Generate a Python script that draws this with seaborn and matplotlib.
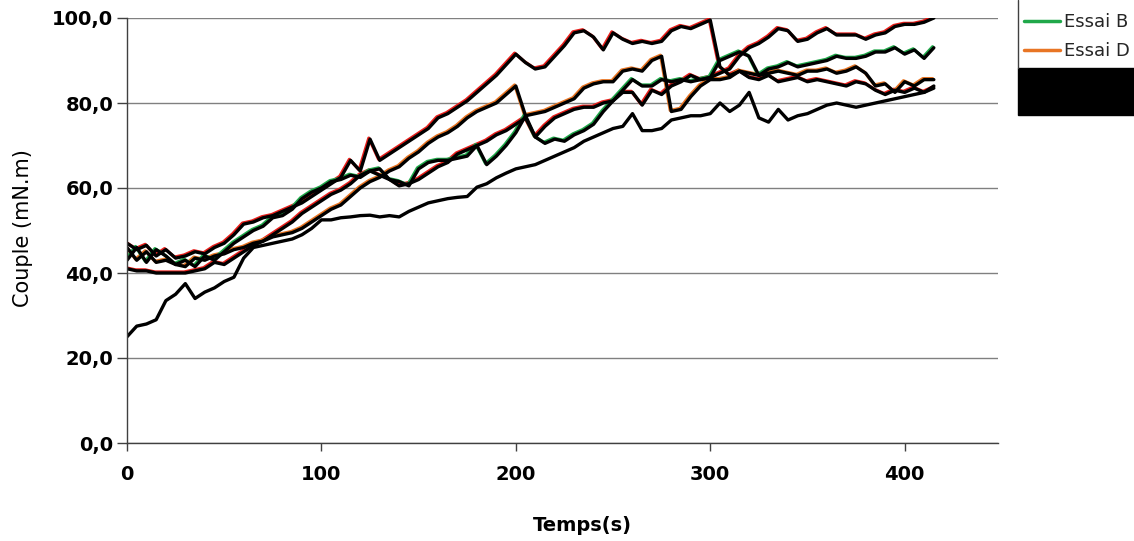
import numpy as np
import pandas as pd
import matplotlib
matplotlib.use("Agg")
import matplotlib.pyplot as plt
import seaborn as sns
from matplotlib.transforms import ScaledTranslation
from matplotlib.patches import Rectangle
from matplotlib.lines import Line2D

sns.set_theme(style="white")
plt.rcParams['font.family'] = ['DejaVu Sans']

# ---------------- data ----------------
time_s = list(range(0, 420, 5))

essai_1 = [47, 45.5, 46.5, 44, 45.5, 43.5, 44, 45, 44.5, 46,
           47, 49, 51.5, 52, 53, 53.5, 54.5, 55.5, 56.5, 58,
           59.5, 61, 62.5, 66.5, 64, 71.5, 66.5, 68, 69.5, 71,
           72.5, 74, 76.5, 77.5, 79, 80.5, 82.5, 84.5, 86.5, 89,
           91.5, 89.5, 88, 88.5, 91, 93.5, 96.5, 97, 95.5, 92.5,
           96.5, 95, 94, 94.5, 94, 94.5, 97, 98, 97.5, 98.5,
           99.5, 88.5, 86.5, 87.5, 86, 85.5, 86.5, 85, 85.5, 86,
           85, 85.5, 85, 84.5, 84, 85, 84.5, 83, 82, 83,
           82.5, 83.5, 82.5, 83.5]

essai_2 = [46, 43, 45, 42.5, 43, 42, 41.5, 43.5, 43, 44,
           44.5, 45.5, 46, 47, 47.5, 48.5, 49, 49.5, 50.5, 52,
           53.5, 55, 56, 58, 60, 61.5, 62.5, 64, 65, 67,
           68.5, 70.5, 72, 73, 74.5, 76.5, 78, 79, 80, 82,
           84, 77, 77.5, 78, 79, 80, 81, 83.5, 84.5, 85,
           85, 87.5, 88, 87.5, 90, 91, 78, 78.5, 81.5, 84,
           85.5, 85.5, 86, 87.5, 87, 86.5, 87, 87.5, 87, 86.5,
           87.5, 87.5, 88, 87, 87.5, 88.5, 87, 84, 84.5, 82.5,
           85, 84, 85.5, 85.5]

essai_3 = [43, 46, 42.5, 45.5, 44, 42, 43, 41.5, 44, 43,
           45, 47, 48.5, 50, 51, 53, 53.5, 55, 57.5, 59,
           60, 61.5, 62, 63, 62.5, 64, 64.5, 62, 61.5, 60.5,
           64.5, 66, 66.5, 66.5, 67, 67.5, 70, 65.5, 67.5, 70,
           73, 77, 72, 70.5, 71.5, 71, 72.5, 73.5, 75, 78,
           80.5, 83, 85.5, 84, 84, 85.5, 85, 85.5, 85, 85.5,
           86, 90, 91, 92, 91, 86.5, 88, 88.5, 89.5, 88.5,
           89, 89.5, 90, 91, 90.5, 90.5, 91, 92, 92, 93,
           91.5, 92.5, 90.5, 93]

essai_4 = [41, 40.5, 40.5, 40, 40, 40, 40, 40.5, 41, 42.5,
           42, 43.5, 45, 46.5, 47.5, 49, 50.5, 52, 54, 55.5,
           57, 58.5, 59.5, 61, 63, 64, 63, 62, 60.5, 61,
           62, 63.5, 65, 66, 68, 69, 70, 71, 72.5, 73.5,
           75, 76.5, 72, 74.5, 76.5, 77.5, 78.5, 79, 79, 80,
           80.5, 82.5, 82.5, 79.5, 83, 82, 84, 85, 86.5, 85.5,
           86, 87, 88, 91, 93, 94, 95.5, 97.5, 97, 94.5,
           95, 96.5, 97.5, 96, 96, 96, 95, 96, 96.5, 98,
           98.5, 98.5, 99, 100]

essai_5 = [25, 27.5, 28, 29, 33.5, 35, 37.5, 34, 35.5, 36.5,
           38, 39, 43.5, 46, 46.5, 47, 47.5, 48, 49, 50.5,
           52.5, 52.5, 53, 53.2, 53.5, 53.6, 53.2, 53.5, 53.2, 54.5,
           55.5, 56.5, 57, 57.5, 57.8, 58, 60.2, 61, 62.4, 63.5,
           64.5, 65, 65.5, 66.5, 67.5, 68.5, 69.5, 71, 72, 73,
           74, 74.5, 77.5, 73.5, 73.5, 74, 76, 76.5, 77, 77,
           77.5, 80, 78, 79.5, 82.5, 76.5, 75.5, 78.5, 76, 77,
           77.5, 78.5, 79.5, 80, 79.5, 79, 79.5, 80, 80.5, 81,
           81.5, 82, 82.5, 84]

y_ticks = [0, 20, 40, 60, 80, 100]
y_tick_labels = ["0,0", "20,0", "40,0", "60,0", "80,0", "100,0"]
x_ticks = [0, 100, 200, 300, 400]
x_tick_labels = ["0", "100", "200", "300", "400"]

legend_labels = ["Essai B", "Essai D"]

black_series = [essai_1, essai_2, essai_3, essai_4, essai_5]
colored_series = [(essai_1, "#e8201c"), (essai_4, "#e8201c"),
                  (essai_2, "#e87524"), (essai_3, "#20a84a")]

# ---------------- figure ----------------
W, H = 1134, 541
fig = plt.figure(figsize=(W / 100, H / 100), dpi=100)
fig.patch.set_facecolor("white")
ax = fig.add_axes([127 / W, 98 / H, 871 / W, 425 / H])
ax.set_facecolor("white")

offset = ScaledTranslation(-0.9 / 72, 0.8 / 72, fig.dpi_scale_trans)
for vals, col in colored_series:
    sns.lineplot(x=time_s, y=vals, ax=ax, color=col, linewidth=2.2,
                 estimator=None, sort=False, legend=False)
    ax.lines[-1].set_transform(ax.transData + offset)

for vals in black_series:
    sns.lineplot(x=time_s, y=vals, ax=ax, color="black", linewidth=2.4,
                 estimator=None, sort=False, legend=False)

ax.set_xlim(0, 448)
ax.set_ylim(0, 100)
ax.set_yticks(y_ticks, labels=y_tick_labels, fontsize=14, fontweight="bold")
ax.set_xticks(x_ticks, labels=x_tick_labels, fontsize=14, fontweight="bold")
ax.yaxis.grid(True, color="#808080", linewidth=1)
ax.xaxis.grid(False)
ax.set_axisbelow(True)
for s in ["top", "right"]:
    ax.spines[s].set_visible(False)
for s in ["left", "bottom"]:
    ax.spines[s].set_color("#404040")
    ax.spines[s].set_linewidth(1)
ax.tick_params(axis="y", direction="out", length=7, width=1, color="#404040",
               pad=3, labelcolor="black", left=True)
ax.tick_params(axis="x", direction="out", length=6, width=1, color="#404040",
               pad=10, labelcolor="black", bottom=True)

ax.set_xlabel("Temps(s)", fontsize=14, fontweight="bold", color="black")
ax.xaxis.set_label_coords((582 - 127) / 871, (443 - 516) / 425)
ax.set_ylabel("Couple (mN.m)", fontsize=15, color="black")
ax.yaxis.set_label_coords((33 - 127) / 871, (443 - 228) / 425)

# legend (partially hidden, as in the reference)
handles = [Line2D([], [], color="#20a84a", linewidth=2.5),
           Line2D([], [], color="#e87524", linewidth=2.5)]
fig.legend(handles, legend_labels, loc="upper left",
           bbox_to_anchor=(1024 / W, 1 - 13 / H), frameon=False,
           fontsize=13, handlelength=2.0, handletextpad=0.2,
           labelspacing=0.6, borderpad=0, borderaxespad=0)
fig.add_artist(Line2D([1018 / W, 1018 / W], [1 - 68 / H, 1.0],
                      color="#404040", linewidth=1, transform=fig.transFigure))
fig.add_artist(Rectangle((1018 / W, 1 - 115 / H), (W - 1018) / W, 47 / H,
                         facecolor="black", edgecolor="black",
                         transform=fig.transFigure))

fig.savefig("out.png", dpi=100, facecolor="white")
